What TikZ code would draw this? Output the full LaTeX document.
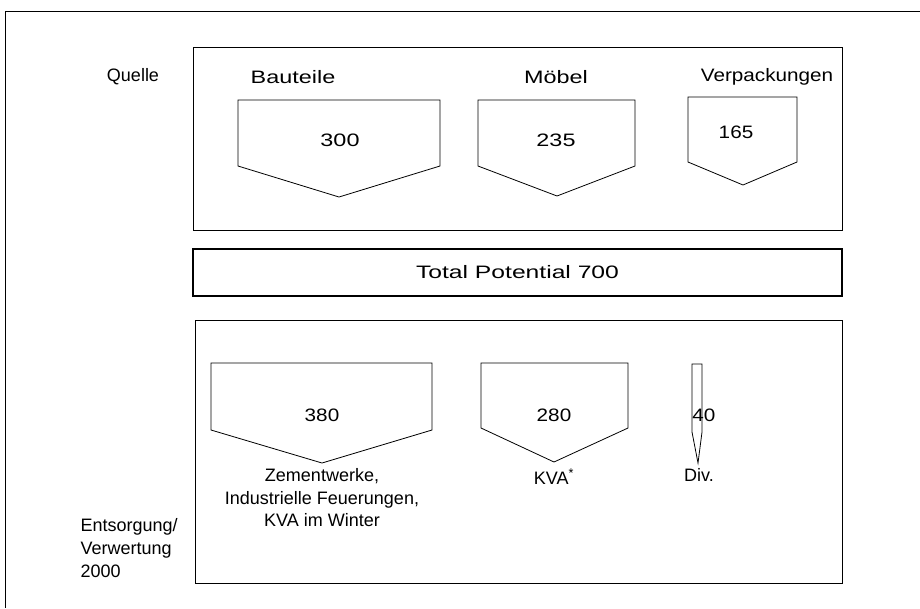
\documentclass[tikz,border=0pt]{standalone}
\usepackage{fontspec}
\setmainfont{Liberation Sans}
\newfontfamily\widesf{Liberation Sans}[FakeStretch=1.3]
\newfontfamily\midsf{Liberation Sans}[FakeStretch=1.15]
\newfontfamily\xwidesf{Liberation Sans}[FakeStretch=1.37]
\usetikzlibrary{positioning}
\tikzset{
  panel/.style={draw,line width=0.7pt},
  pent/.style={draw,line width=0.6pt},
  lbl/.style={inner sep=1pt},
}

\begin{document}
\begin{tikzpicture}[x=0.75pt,y=-0.75pt,font=\fontsize{13.5}{17}\selectfont]
  \useasboundingbox (0,0) rectangle (920,608);
  % page frame (runs off right and bottom)
  \draw[line width=0.6pt] (920,11) -- (5,11) -- (5,608);
  % panels
  \draw[panel] (193,47) rectangle (842,230);
  \node[draw,line width=1.4pt,minimum width=649*0.75pt,minimum height=47*0.75pt,inner sep=0pt]
    (total) at (517.5,272.5) {\xwidesf Total Potential 700};
  \draw[panel] (195,320) rectangle (842,583);
  % row labels
  \node[lbl] (quelle) at (133,77) {Quelle};
  \node[lbl,align=left,anchor=west] (entsorg) at (79,548) {Entsorgung/\\Verwertung\\2000};
  % Quelle: Bauteile 300
  \node[lbl] (bauteile) at (293,77) {\widesf Bauteile};
  \draw[pent] (238,100) -- (440,100) -- (440,166) -- (339,197) -- (238,166) -- cycle;
  \node[lbl] (q300) at (340,140) {\widesf 300};
  % Moebel 235
  \node[lbl] (moebel) at (556,77) {\widesf Möbel};
  \draw[pent] (478,100) -- (635,100) -- (635,166) -- (557,196) -- (478,166) -- cycle;
  \node[lbl] (q235) at (556,140) {\widesf 235};
  % Verpackungen 165
  \node[lbl] (verpack) at (767,77) {\midsf Verpackungen};
  \draw[pent] (688,97) -- (797,97) -- (797,162) -- (743,185) -- (688,162) -- cycle;
  \node[lbl] (q165) at (736,132) {\midsf 165};
  % Entsorgung: 380
  \draw[pent] (211,363) -- (432,363) -- (432,430) -- (322,463) -- (211,430) -- cycle;
  \coordinate (tipa) at (322,463);
  \node[lbl] (e380) at (322,415) {\midsf 380};
  \node[lbl,align=center,below=3pt of tipa] (zement) {Zementwerke,\\Industrielle Feuerungen,\\KVA im Winter};
  % 280
  \draw[pent] (481,363) -- (628,363) -- (628,428) -- (554,462) -- (481,428) -- cycle;
  \coordinate (tipb) at (554,463);
  \node[lbl] (e280) at (554,415) {\midsf 280};
  \node[lbl,below=3pt of tipb] (kva) {KVA\textsuperscript{*}};
  % 40
  \draw[pent] (692,364) -- (702,364) -- (702,432) -- (698,463) -- (692,432) -- cycle;
  \coordinate (tipc) at (699,463);
  \node[inner sep=0pt,anchor=west] (e40) at (692,415) {\midsf 40};
  \node[lbl,below=3pt of tipc] (div) {Div.};
\end{tikzpicture}
\end{document}
